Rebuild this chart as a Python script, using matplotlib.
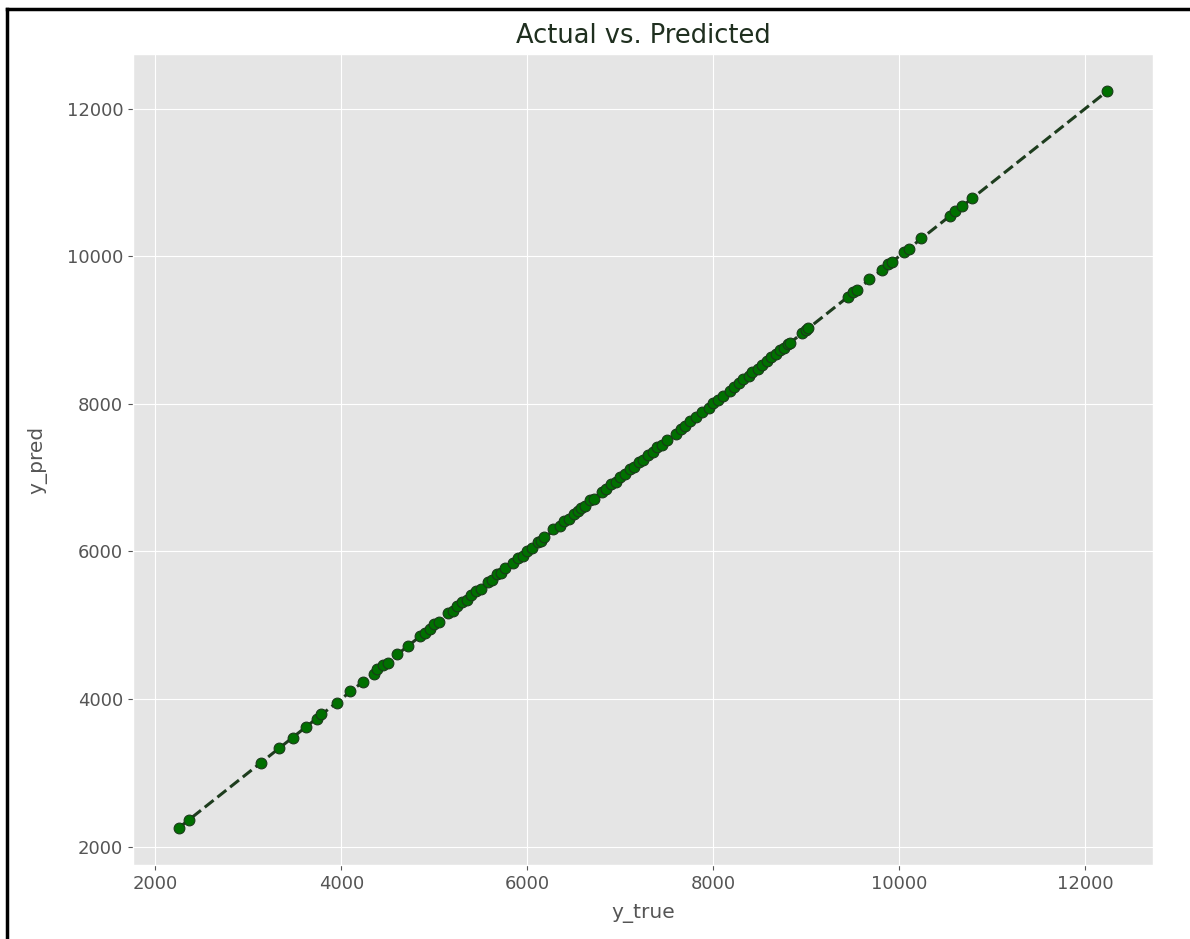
import matplotlib
matplotlib.use("Agg")
import matplotlib.pyplot as plt
from matplotlib.lines import Line2D
import numpy as np

plt.style.use("ggplot")

y_true = [2260, 2360, 3140, 3330, 3480, 3620, 3740, 3780, 3950, 4100, 4230, 4350, 4390,
          4450, 4500, 4600, 4720, 4850, 4900, 4950, 5000, 5050, 5150, 5200, 5250, 5300,
          5350, 5400, 5450, 5500, 5580, 5620, 5680, 5720, 5760, 5850, 5900, 5950, 6000,
          6050, 6120, 6150, 6180, 6280, 6350, 6400, 6450, 6500, 6550, 6580, 6620, 6680,
          6720, 6800, 6850, 6900, 6950, 7000, 7050, 7100, 7150, 7200, 7250, 7300, 7350,
          7400, 7450, 7500, 7600, 7650, 7700, 7750, 7820, 7880, 7950, 8000, 8050, 8100,
          8180, 8220, 8280, 8320, 8380, 8420, 8480, 8520, 8580, 8620, 8680, 8720, 8760,
          8800, 8830, 8950, 9000, 9020, 9450, 9500, 9550, 9680, 9820, 9880, 9920, 10050,
          10100, 10230, 10550, 10600, 10680, 10780, 12230]
y_pred = [2250, 2365, 3135, 3340, 3470, 3625, 3735, 3790, 3945, 4110, 4225, 4340, 4400,
          4455, 4490, 4610, 4715, 4860, 4890, 4955, 5010, 5045, 5160, 5190, 5255, 5310,
          5340, 5405, 5460, 5490, 5590, 5615, 5690, 5710, 5770, 5845, 5910, 5940, 6010,
          6045, 6130, 6140, 6190, 6300, 6340, 6410, 6440, 6510, 6545, 6590, 6615, 6690,
          6710, 6810, 6845, 6910, 6940, 7010, 7045, 7110, 7140, 7210, 7245, 7310, 7345,
          7410, 7445, 7510, 7595, 7660, 7695, 7760, 7815, 7890, 7945, 8010, 8045, 8110,
          8175, 8230, 8275, 8330, 8375, 8430, 8475, 8530, 8575, 8630, 8675, 8730, 8755,
          8810, 8825, 8960, 8995, 9030, 9445, 9510, 9545, 9690, 9815, 9890, 9915, 10060,
          10095, 10240, 10545, 10610, 10675, 10790, 12240]

fig = plt.figure(figsize=(11.9, 9.39), dpi=100)
ax = fig.add_axes([133/1190, 1 - 865/939, (1153 - 133)/1190, (865 - 54)/939])

ax.scatter(y_true, y_pred, s=60, color="#007000", edgecolors="#1a3a1a", linewidths=0.8, zorder=3)
lo, hi = min(y_true), max(y_true)
ax.plot([lo, hi], [lo, hi], "--", color="#1e3d1e", lw=2.2, zorder=2)

ax.set_title("Actual vs. Predicted", fontsize=18.5, color="#1f2f1f", pad=8)
ax.set_xlabel("y_true", fontsize=14.5, color="#555555", labelpad=8)
ax.set_ylabel("y_pred", fontsize=14.5, color="#555555", labelpad=14)
ax.set_xticks([2000, 4000, 6000, 8000, 10000, 12000])
ax.set_yticks([2000, 4000, 6000, 8000, 10000, 12000])
ax.tick_params(labelsize=13, colors="#555555")

fig.add_artist(Line2D([7/1190, 7/1190], [0, 1 - 9/939], color="black", lw=2.5, transform=fig.transFigure))
fig.add_artist(Line2D([7/1190, 1], [1 - 9/939, 1 - 9/939], color="black", lw=2.5, transform=fig.transFigure))

fig.savefig("out.png", dpi=100)
